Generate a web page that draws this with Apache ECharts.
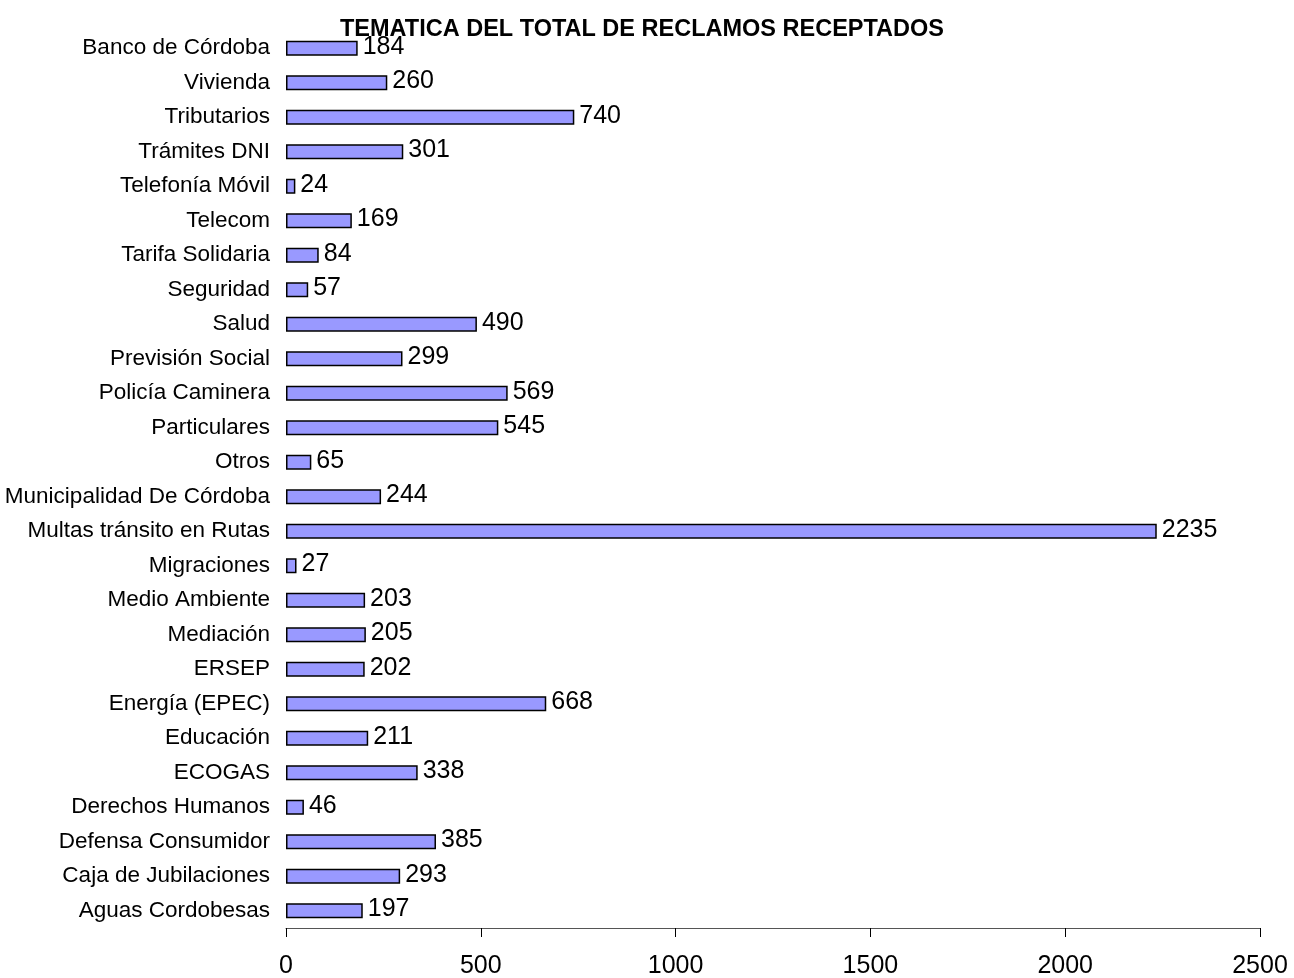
<!DOCTYPE html>
<html>
<head>
<meta charset="utf-8">
<script src="https://cdn.jsdelivr.net/npm/echarts@6/dist/echarts.min.js"></script>
<style>html,body{margin:0;padding:0;background:#fff}#c{width:1294px;height:978px}</style>
</head>
<body>
<div id="c"></div>
<script>
const categories = ["Aguas Cordobesas","Caja de Jubilaciones","Defensa Consumidor","Derechos Humanos","ECOGAS","Educación","Energía (EPEC)","ERSEP","Mediación","Medio Ambiente","Migraciones","Multas tránsito en Rutas","Municipalidad De Córdoba","Otros","Particulares","Policía Caminera","Previsión Social","Salud","Seguridad","Tarifa Solidaria","Telecom","Telefonía Móvil","Trámites DNI","Tributarios","Vivienda","Banco de Córdoba"];
const values = [197,293,385,46,338,211,668,202,205,203,27,2235,244,65,545,569,299,490,57,84,169,24,301,740,260,184];
const xTicks = [0,500,1000,1500,2000,2500];
const titleText = "TEMATICA DEL TOTAL DE RECLAMOS RECEPTADOS";

const chart = echarts.init(document.getElementById('c'), null, {renderer:'canvas'});
chart.setOption({
  animation:false,
  backgroundColor:'#fff',
  title:{text:titleText,left:637,textAlign:'center',top:13,textStyle:{fontFamily:'Liberation Sans',fontWeight:'bold',fontSize:23.5,color:'#000'}},
  grid:{left:286,right:34,top:31,bottom:50,containLabel:false,outerBoundsMode:'none'},
  xAxis:{type:'value',min:xTicks[0],max:xTicks[xTicks.length-1],interval:500,
    axisLine:{show:true,lineStyle:{color:'#555',width:1}},
    axisTick:{show:true,length:9,inside:false,lineStyle:{color:'#000'}},
    splitLine:{show:false},
    axisLabel:{fontFamily:'Liberation Sans',fontSize:25,color:'#000',margin:26,formatter:function(v){return String(v);}}},
  yAxis:{type:'category',data:categories,
    axisLine:{show:false},axisTick:{show:false},
    axisLabel:{fontFamily:'Liberation Sans',fontSize:22.5,color:'#000',margin:16}},
  series:[{type:'bar',data:values,barWidth:15,
    itemStyle:{color:'#9999FF',borderColor:'#000',borderWidth:1.5},
    label:{show:true,position:'right',distance:5,offset:[0,-1.5],fontFamily:'Liberation Sans',fontSize:25,color:'#000'}}]
});
</script>
</body>
</html>
